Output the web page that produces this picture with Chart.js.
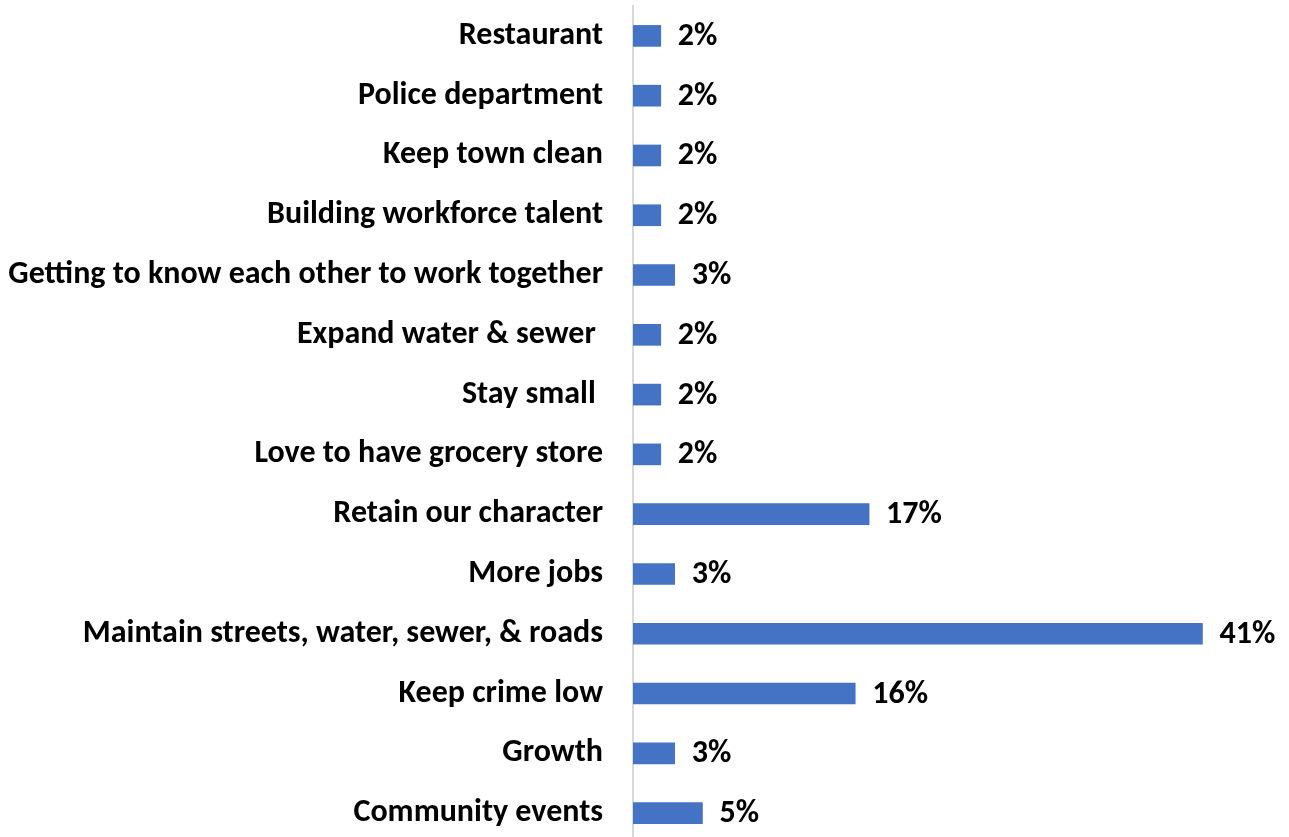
<!DOCTYPE html>
<html>
<head>
<meta charset="utf-8">
<script src="https://cdn.jsdelivr.net/npm/chart.js@4"></script>
<style>
  html, body { margin: 0; padding: 0; background: #fff; overflow: hidden; }
  #wrap { width: 1289px; height: 843px; }
</style>
</head>
<body>
<div id="wrap"><canvas id="chart"></canvas></div>
<script>
const categories = [
  'Restaurant',
  'Police department',
  'Keep town clean',
  'Building workforce talent',
  'Getting to know each other to work together',
  'Expand water & sewer ',
  'Stay small ',
  'Love to have grocery store',
  'Retain our character',
  'More jobs',
  'Maintain streets, water, sewer, & roads',
  'Keep crime low',
  'Growth',
  'Community events'
];
const percents = [2, 2, 2, 2, 3, 2, 2, 2, 17, 3, 41, 16, 3, 5];

const labelFont = { family: 'Carlito, Calibri, "Liberation Sans Narrow", sans-serif', size: 32, weight: 'bold' };

// writes "NN%" just past the end of each bar
const valueLabels = {
  id: 'valueLabels',
  afterDatasetsDraw(chart) {
    const ctx = chart.ctx;
    const meta = chart.getDatasetMeta(0);
    ctx.save();
    ctx.font = `${labelFont.weight} ${labelFont.size}px ${labelFont.family}`;
    ctx.fillStyle = '#000';
    ctx.textAlign = 'left';
    ctx.textBaseline = 'middle';
    meta.data.forEach((bar, i) => {
      ctx.fillText(percents[i] + '%', bar.x + 17, bar.y + 1);
    });
    ctx.restore();
  }
};

new Chart(document.getElementById('chart'), {
  type: 'bar',
  data: {
    labels: categories,
    datasets: [{
      data: percents,
      backgroundColor: '#4472C4',
      borderWidth: 0,
      barThickness: 21
    }]
  },
  options: {
    indexAxis: 'y',
    responsive: true,
    maintainAspectRatio: false,
    animation: false,
    layout: { padding: { top: 6, right: 31, left: 0, bottom: 0 } },
    plugins: {
      legend: { display: false },
      tooltip: { enabled: false }
    },
    scales: {
      x: {
        display: false,
        min: 0,
        max: 45
      },
      y: {
        grid: { display: false, drawTicks: false },
        border: { display: true, color: '#d9d9d9', width: 2 },
        ticks: {
          color: '#000',
          padding: 30,
          font: labelFont
        },
        afterFit(scale) {
          scale.width = 633;
          // labels sit inside their bands, no extra room needed above/below
          scale.paddingTop = 0;
          scale.paddingBottom = 0;
        }
      }
    }
  },
  plugins: [valueLabels]
});
</script>
</body>
</html>
